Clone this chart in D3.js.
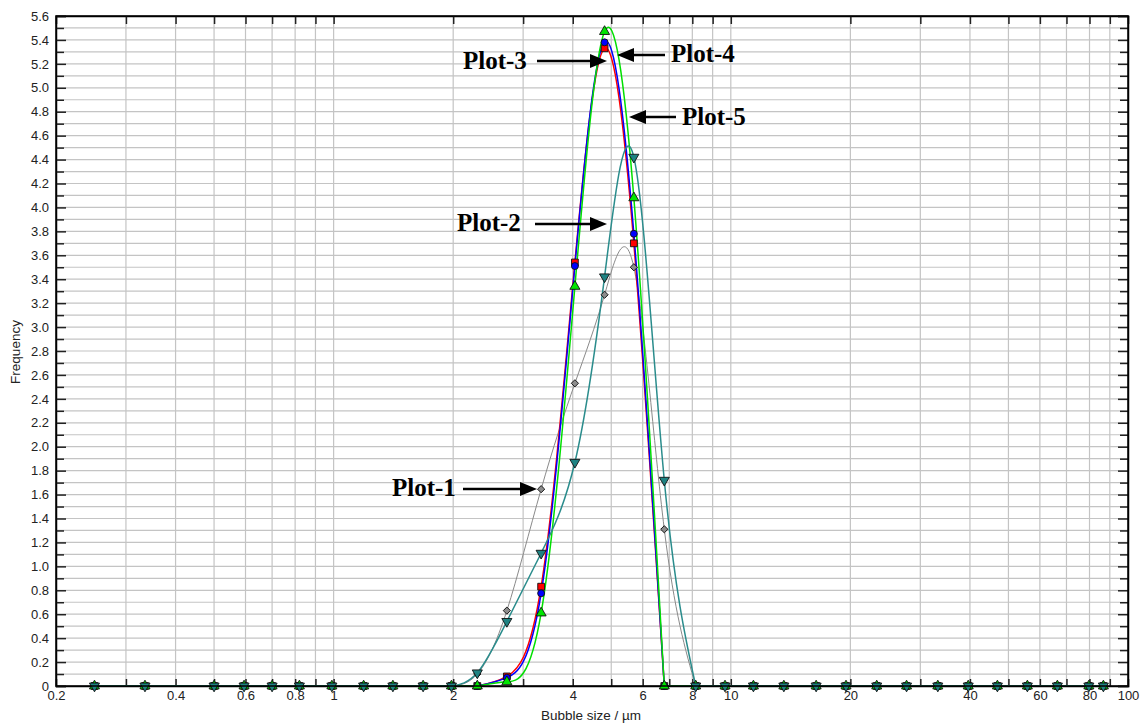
<!DOCTYPE html>
<html>
<head>
<meta charset="utf-8">
<script src="https://cdn.jsdelivr.net/npm/d3@7"></script>
<style>
  body { margin: 0; background: #fff; }
  svg { display: block; }
  .tick text { font-family: "Liberation Sans", Arial, sans-serif; font-size: 13px; fill: #222; }
</style>
</head>
<body>
<div id="chart"></div>
<script>
// size classes (µm)
const sizes = [0.25, 0.335, 0.5, 0.595, 0.7, 0.82, 0.99, 1.19, 1.41, 1.68, 1.98,
  2.3, 2.73, 3.33, 4.05, 4.81, 5.7, 6.8,
  8.16, 9.67, 11.4, 13.6, 16.4, 19.5, 23.3, 27.7, 33.2, 39.6, 46.9, 55.8, 66.4, 79.7, 86.7];

const plot1 = [0, 0, 0, 0, 0, 0, 0, 0, 0, 0, 0,
  0.1, 0.63, 1.645, 2.53, 3.27, 3.5, 1.31,
  0, 0, 0, 0, 0, 0, 0, 0, 0, 0, 0, 0, 0, 0, 0];
const plot2 = [0, 0, 0, 0, 0, 0, 0, 0, 0, 0, 0,
  0.11, 0.54, 1.11, 1.87, 3.42, 4.42, 1.72,
  0, 0, 0, 0, 0, 0, 0, 0, 0, 0, 0, 0, 0, 0, 0];
const plot3 = [0, 0, 0, 0, 0, 0, 0, 0, 0, 0, 0,
  0, 0.08, 0.83, 3.54, 5.33, 3.7, 0,
  0, 0, 0, 0, 0, 0, 0, 0, 0, 0, 0, 0, 0, 0, 0];
const plot4 = [0, 0, 0, 0, 0, 0, 0, 0, 0, 0, 0,
  0, 0.07, 0.775, 3.51, 5.38, 3.78, 0,
  0, 0, 0, 0, 0, 0, 0, 0, 0, 0, 0, 0, 0, 0, 0];
const plot5 = [0, 0, 0, 0, 0, 0, 0, 0, 0, 0, 0,
  0, 0.035, 0.61, 3.34, 5.47, 4.08, 0,
  0, 0, 0, 0, 0, 0, 0, 0, 0, 0, 0, 0, 0, 0, 0];

const xLabels = [0.2, 0.4, 0.6, 0.8, 1, 2, 4, 6, 8, 10, 20, 40, 60, 80, 100];
const xGrid = [0.3, 0.4, 0.5, 0.6, 0.7, 0.8, 0.9, 1, 2, 3, 4, 5, 6, 7, 8, 9, 10, 20, 30, 40, 50, 60, 70, 80, 90];
const yMajor = d3.range(0, 5.61, 0.2).map(v => +v.toFixed(1));
const yMinor = d3.range(0.1, 5.6, 0.2).map(v => +v.toFixed(1));

// drawing order: last one sits on top
const series = [
  {name: "Plot-1", values: plot1, line: "#8a8a8a", fill: "#8c8c8c", width: 1, shape: d3.symbolSquare, size: 26, rot: 45},
  {name: "Plot-3", values: plot3, line: "#ff0000", fill: "#ff0000", width: 1.5, shape: d3.symbolSquare, size: 46, rot: 0},
  {name: "Plot-4", values: plot4, line: "#0000ff", fill: "#0000ff", width: 1.5, shape: d3.symbolCircle, size: 38, rot: 0},
  {name: "Plot-5", values: plot5, line: "#00e000", fill: "#00e600", width: 1.5, shape: d3.symbolTriangle, size: 44, rot: 0},
  {name: "Plot-2", values: plot2, line: "#2a8c8c", fill: "#1e8282", width: 1.5, shape: d3.symbolTriangle, size: 44, rot: 180}
];

const notes = [
  {text: "Plot-3", tx: 463, ty: 69, x1: 537, x2: 607, y: 61},
  {text: "Plot-4", tx: 671, ty: 62, x1: 665, x2: 617, y: 55},
  {text: "Plot-5", tx: 682, ty: 125, x1: 676, x2: 629, y: 117},
  {text: "Plot-2", tx: 457, ty: 231, x1: 535, x2: 607, y: 224},
  {text: "Plot-1", tx: 392, ty: 496, x1: 463, x2: 537, y: 489}
];

const W = 1148, H = 725;
const margin = {top: 16, right: 20, bottom: 39, left: 56};
const w = W - margin.left - margin.right;
const h = H - margin.top - margin.bottom;

const svg = d3.select("#chart").append("svg")
  .attr("width", W).attr("height", H);
svg.append("rect").attr("width", W).attr("height", H).attr("fill", "#fff");

const g = svg.append("g").attr("transform", `translate(${margin.left},${margin.top})`);

const x = d3.scaleLog().domain([0.2, 100]).range([0, w]);
const y = d3.scaleLinear().domain([0, 5.6]).range([h, 0]);

// grid
g.append("g").selectAll("line").data(xGrid).enter().append("line")
  .attr("x1", d => x(d)).attr("x2", d => x(d))
  .attr("y1", 0).attr("y2", h)
  .attr("stroke", "#c4c4c4").attr("stroke-width", 1.2);
g.append("g").selectAll("line").data(yMajor.concat(yMinor)).enter().append("line")
  .attr("x1", 0).attr("x2", w)
  .attr("y1", d => y(d)).attr("y2", d => y(d))
  .attr("stroke", "#c4c4c4").attr("stroke-width", 1.2);

// axes (ticks inward)
g.append("g").attr("transform", `translate(0,${h})`)
  .call(d3.axisBottom(x).tickValues(xGrid).tickSize(-7).tickFormat(""));
const xbl = g.append("g").attr("transform", `translate(0,${h})`)
  .call(d3.axisBottom(x).tickValues(xLabels).tickSize(0).tickPadding(5)
    .tickFormat(d => d));
xbl.select(".domain").remove();
g.append("g")
  .call(d3.axisTop(x).tickValues(xGrid).tickSize(-8).tickFormat(""));

g.append("g")
  .call(d3.axisLeft(y).tickValues(yMajor).tickSize(-10).tickPadding(7)
    .tickFormat(d => d === 0 ? "0" : d3.format(".1f")(d)));
g.append("g").call(d3.axisLeft(y).tickValues(yMinor).tickSize(-8).tickFormat(""))
  .select(".domain").remove();
g.append("g").attr("transform", `translate(${w},0)`)
  .call(d3.axisRight(y).tickValues(yMajor).tickSize(-10).tickFormat(""));
g.append("g").attr("transform", `translate(${w},0)`)
  .call(d3.axisRight(y).tickValues(yMinor).tickSize(-8).tickFormat(""))
  .select(".domain").remove();

g.selectAll(".domain").attr("stroke", "#000").attr("stroke-width", 1.5);
g.selectAll(".tick line").attr("stroke", "#222").attr("stroke-width", 1.5);

// curves: smooth spline over the peak, flat baseline elsewhere
g.append("clipPath").attr("id", "clip").append("rect")
  .attr("x", 0).attr("y", 0).attr("width", w).attr("height", h);

const plotG = g.append("g").attr("clip-path", "url(#clip)");
series.forEach(s => {
  const pts = s.values.map((v, i) => [sizes[i], v, i]);
  const nz = pts.filter(p => p[1] > 0).map(p => p[2]);
  const lo = Math.max(0, d3.min(nz) - 1), hi = Math.min(pts.length - 1, d3.max(nz) + 1);

  const flat = d3.line()
    .defined(p => p[2] <= lo || p[2] >= hi)
    .x(p => x(p[0])).y(p => y(p[1]));
  const smooth = d3.line()
    .x(p => x(p[0])).y(p => y(p[1]))
    .curve(d3.curveNatural);

  plotG.append("path").datum(pts)
    .attr("fill", "none").attr("stroke", s.line).attr("stroke-width", s.width)
    .attr("d", flat);
  plotG.append("path").datum(pts.slice(lo, hi + 1))
    .attr("fill", "none").attr("stroke", s.line).attr("stroke-width", s.width)
    .attr("d", smooth);
});

const markG = g.append("g");
series.forEach(s => {
  markG.selectAll(null).data(s.values).enter().append("path")
    .attr("d", d3.symbol().type(s.shape).size(s.size))
    .attr("transform", (d, i) => `translate(${x(sizes[i])},${y(d)}) rotate(${s.rot})`)
    .attr("fill", s.fill)
    .attr("stroke", "#111")
    .attr("stroke-width", 0.9);
});

// frame on top
g.append("rect").attr("width", w).attr("height", h)
  .attr("fill", "none").attr("stroke", "#000").attr("stroke-width", 1.5);

// axis titles
svg.append("text")
  .attr("x", 591).attr("y", 720)
  .attr("text-anchor", "middle")
  .style("font-family", "Liberation Sans, Arial, sans-serif")
  .style("font-size", "13.5px").attr("fill", "#222")
  .text("Bubble size / µm");
svg.append("text")
  .attr("transform", "translate(20,352) rotate(-90)")
  .attr("text-anchor", "middle")
  .style("font-family", "Liberation Sans, Arial, sans-serif")
  .style("font-size", "13.5px").attr("fill", "#222")
  .text("Frequency");

// annotations
const ann = svg.append("g");
notes.forEach(n => {
  ann.append("text")
    .attr("x", n.tx).attr("y", n.ty)
    .style("font-family", "Liberation Serif, 'Times New Roman', serif")
    .style("font-weight", "bold").style("font-size", "25px")
    .attr("fill", "#000")
    .text(n.text);
  const dir = n.x2 > n.x1 ? 1 : -1;
  const hx = n.x2 - dir * 17;
  ann.append("line")
    .attr("x1", n.x1).attr("x2", hx).attr("y1", n.y).attr("y2", n.y)
    .attr("stroke", "#000").attr("stroke-width", 2.5);
  ann.append("path")
    .attr("d", `M${n.x2},${n.y} L${hx},${n.y - 7} L${hx},${n.y + 7} Z`)
    .attr("fill", "#000");
});
</script>
</body>
</html>
